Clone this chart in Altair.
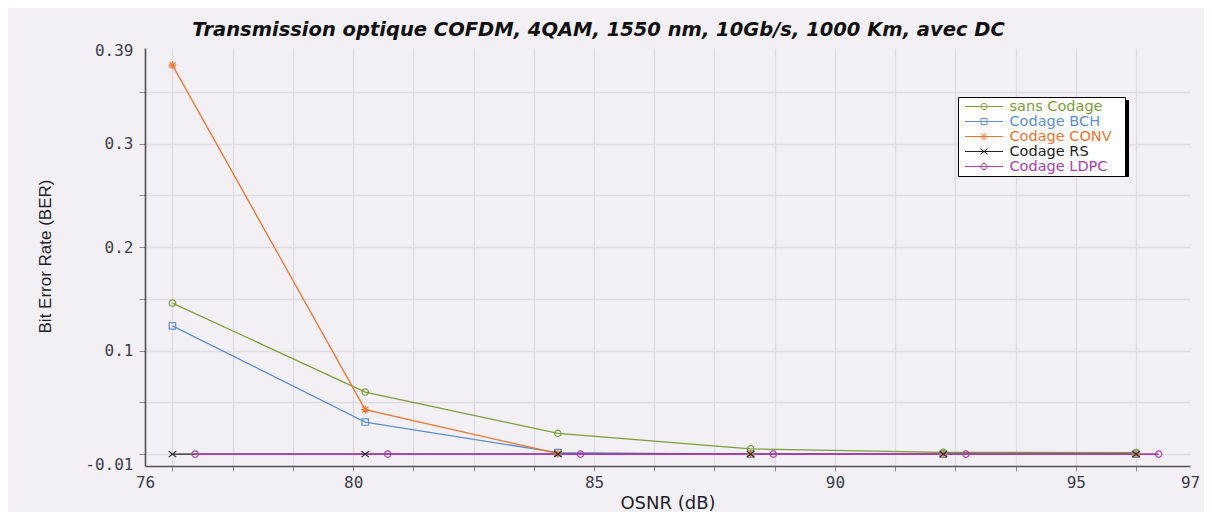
import altair as alt
import pandas as pd

# ---------------- values ----------------
osnr_db = [76.25, 80.25, 84.25, 88.25, 92.25, 96.25]
osnr_db_ldpc = [76.72, 80.72, 84.72, 88.72, 92.72, 96.72]
ber_sans = [0.146, 0.060, 0.020, 0.005, 0.0017, 0.0015]
ber_bch = [0.124, 0.031, 0.0014, 0.0, 0.0, 0.0]
ber_conv = [0.376, 0.043, 0.0006, 0.0, 0.0, 0.0]
ber_rs = [0.0, 0.0, 0.0, 0.0, 0.0, 0.0]
ber_ldpc = [0.0, 0.0, 0.0, 0.0, 0.0, 0.0]

series_names = ["sans Codage", "Codage BCH", "Codage CONV", "Codage RS", "Codage LDPC"]
series_x = [osnr_db, osnr_db, osnr_db, osnr_db, osnr_db_ldpc]
series_y = [ber_sans, ber_bch, ber_conv, ber_rs, ber_ldpc]

x_domain = [75.68, 97.37]
x_tick_values = [75.68, 76.25, 77.5, 78.75, 80.0, 81.25, 82.5, 83.75, 85.0, 86.25,
                 87.5, 88.75, 90.0, 91.25, 92.5, 93.75, 95.0, 96.25, 97.37]
x_tick_labels = ["76", "", "", "", "80", "", "", "", "85", "", "", "", "90", "", "", "",
                 "95", "", "97"]
y_domain = [-0.0115, 0.3925]
y_tick_values = [-0.01, 0.0, 0.05, 0.1, 0.15, 0.2, 0.25, 0.3, 0.35, 0.39]
y_tick_labels = ["-0.01", "", "", "0.1", "", "0.2", "", "0.3", "", "0.39"]

title_text = "Transmission optique COFDM, 4QAM, 1550 nm, 10Gb/s, 1000 Km, avec DC"
x_title = "OSNR (dB)"
y_title = "Bit Error Rate (BER)"

# ---------------- styles ----------------
series_colors = ["#7b9e3a", "#5b8fcf", "#ee7430", "#222222", "#a940b0"]
line_widths = [1.3, 1.3, 1.3, 1.3, 1.8]
marker_paths = [
    "M1,0A1,1 0 1,1 -1,0A1,1 0 1,1 1,0Z",
    "M-1,-1H1V1H-1Z",
    "M0,-1V1M-1,0H1M-0.75,-0.75L0.75,0.75M-0.75,0.75L0.75,-0.75",
    "M-1,-0.8L1,0.8M-1,0.8L1,-0.8",
    "M1,0A1,1 0 1,1 -1,0A1,1 0 1,1 1,0Z",
]
marker_sizes = [42, 42, 64, 56, 42]
legend_paths = [
    "M-1,0H1M0.16,0A0.16,0.16 0 1,1 -0.16,0A0.16,0.16 0 1,1 0.16,0Z",
    "M-1,0H1M-0.16,-0.16H0.16V0.16H-0.16Z",
    "M-1,0H1M0,-0.2V0.2M-0.2,0H0.2M-0.15,-0.15L0.15,0.15M-0.15,0.15L0.15,-0.15",
    "M-1,0H1M-0.19,-0.15L0.19,0.15M-0.19,0.15L0.19,-0.15",
    "M-1,0H1M0.16,0A0.16,0.16 0 1,1 -0.16,0A0.16,0.16 0 1,1 0.16,0Z",
]
flat_bar = "M-1,-0.05H1V0.05H-1Z"
bg = "#f2f0f4"
grid_col = "#dedce1"
BLANK = "\u2800"

rows = []
for name, xs, ys in zip(series_names, series_x, series_y):
    for xv, yv in zip(xs, ys):
        rows.append({"series": name, "osnr": xv, "ber": yv})
df = pd.DataFrame(rows)


def label_expr(values, labels):
    expr = "''"
    for v, lab in zip(values, labels):
        if lab:
            expr = f"datum.value == {v} ? '{lab}' : ({expr})"
    return expr


x_axis = alt.Axis(
    values=x_tick_values,
    labelExpr=label_expr(x_tick_values, x_tick_labels),
    labelFlush=False, labelOverlap=False,
    grid=True,
    gridColor={"condition": {"test": "datum.value < 76 || datum.value > 97", "value": "transparent"},
               "value": grid_col},
    tickColor={"condition": {"test": "datum.value < 76 || datum.value > 97", "value": "transparent"},
               "value": "#8c8c8c"},
    tickSize=5, labelPadding=3,
    title=x_title, titleFont="DejaVu Sans", titleFontSize=18, titleFontWeight="normal",
    titleColor="#1e1e2a", titleY=37, titleBaseline="middle",
)
y_axis = alt.Axis(
    values=y_tick_values,
    labelExpr=label_expr(y_tick_values, y_tick_labels),
    labelFlush=False, labelOverlap=False,
    grid=True,
    gridColor={"condition": {"test": "datum.value < -0.005 || datum.value > 0.37", "value": "transparent"},
               "value": grid_col},
    tickColor={"condition": {"test": "datum.value < -0.005 || datum.value > 0.37", "value": "transparent"},
               "value": "#8c8c8c"},
    tickSize=6, labelPadding=6,
    title=y_title, titleFont="Liberation Sans", titleFontSize=17, titleFontWeight="normal",
    titleColor="#1e1e2a", titleX=-100, titleY=208, titleAngle=270, titleBaseline="middle",
    titleAlign="center",
)

x_enc = alt.X("osnr:Q", scale=alt.Scale(domain=x_domain, nice=False, zero=False), axis=x_axis)
y_enc = alt.Y("ber:Q", scale=alt.Scale(domain=y_domain, nice=False, zero=False), axis=y_axis)
color_enc = alt.Color("series:N", scale=alt.Scale(domain=series_names, range=series_colors),
                      legend=None)

base = alt.Chart(df)
layers = []
for i, name in enumerate(series_names):
    layers.append(
        base.transform_filter(alt.datum.series == name)
        .mark_line(strokeWidth=line_widths[i], clip=True)
        .encode(x=x_enc, y=y_enc, color=color_enc)
    )
for i, name in enumerate(series_names):
    layers.append(
        base.transform_filter(alt.datum.series == name)
        .mark_point(shape=marker_paths[i], size=marker_sizes[i], filled=False,
                    strokeWidth=1.2, opacity=1, clip=True)
        .encode(x=x_enc, y=y_enc, color=color_enc)
    )

# shadow of the legend box (drawn below; blank entries, one wide flat invisible symbol)
layers.append(
    base.mark_point(opacity=0, size=26244, shape=flat_bar).encode(
        x=x_enc, y=y_enc,
        opacity=alt.Opacity("series:O", scale=alt.Scale(range=[0, 0]),
                            legend=alt.Legend(title=None, orient="none", legendX=816, legendY=52,
                                              fillColor="black", strokeColor="black", zindex=0,
                                              padding=2, symbolType=flat_bar, symbolSize=26244,
                                              symbolStrokeWidth=1, clipHeight=15, rowPadding=3.75,
                                              symbolOffset=0, labelOffset=0,
                                              labelExpr="''", labelFontSize=13)),
    )
)
# the legend itself (drawn on top)
layers.append(
    base.mark_point(opacity=0, filled=False, strokeWidth=1).encode(
        x=x_enc, y=y_enc,
        shape=alt.Shape("series:N", sort=series_names, scale=alt.Scale(range=legend_paths),
                        legend=alt.Legend(title=None, orient="none", legendX=813, legendY=49,
                                          fillColor="white", strokeColor="black", zindex=2,
                                          padding=2, symbolSize=1444, symbolStrokeWidth=1,
                                          clipHeight=15, rowPadding=-1,
                                          symbolOffset=4.5, labelOffset=6,
                                          labelFont="DejaVu Sans", labelFontSize=14.5,
                                          labelLimit=400,
                                          symbolOpacity=1, symbolFillColor="transparent",
                                          symbolStrokeColor={"expr": "scale('color', datum.value)"},
                                          labelColor={"expr": "scale('color', datum.value)"},
                                          labelExpr="datum.label + '" + BLANK + "'")),
    )
)

chart = (
    alt.layer(*layers)
    .properties(
        width=1045, height=418,
        autosize=alt.AutoSizeParams(type="none"),
        padding={"left": 137, "top": 40, "right": 14, "bottom": 46},
        background=bg,
        title=alt.TitleParams(text=title_text, font="DejaVu Sans", fontSize=19.5,
                              fontWeight="bold", fontStyle="italic", color="#111111",
                              anchor="middle", frame="group", dx=-69, dy=26, offset=13,
                              baseline="alphabetic"),
    )
    .configure_view(stroke=None, fill=bg)
    .configure_axis(domainColor="#505050", domainWidth=1.6, tickWidth=1, gridWidth=1.3,
                    labelFont="DejaVu Sans Mono", labelFontSize=16, labelColor="#3d3d4d")
)

chart.save("out.html", embed_options={"renderer": "svg", "actions": False})
